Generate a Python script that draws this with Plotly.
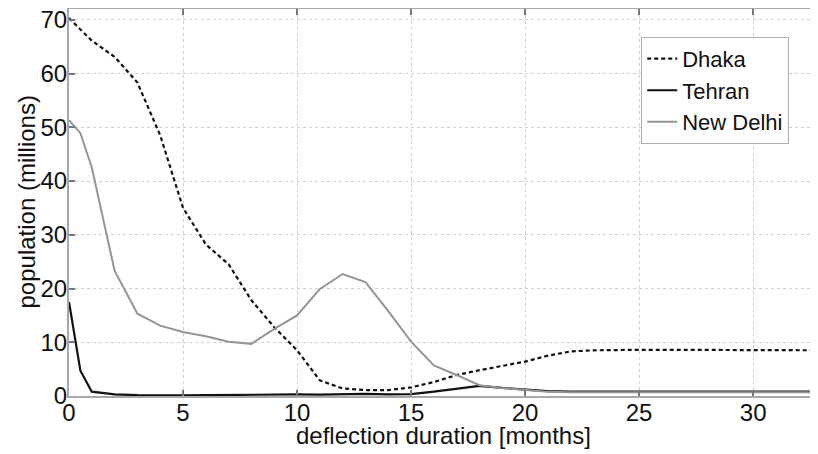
import plotly.graph_objects as go

months = list(range(0, 34))
dhaka = [70.3, 66.1, 63.1, 58.3, 48.5, 35.0, 28.2, 24.5, 17.8, 12.8,
         8.5, 2.9, 1.4, 1.1, 1.1, 1.6, 2.6, 3.9, 4.8, 5.6,
         6.4, 7.5, 8.3, 8.5, 8.6, 8.6, 8.6, 8.6, 8.6, 8.6,
         8.6, 8.6, 8.5, 8.5]

tehran_months = [0, 0.5] + list(range(1, 34))
tehran = [17.5, 4.7, 0.8, 0.3, 0.15, 0.1, 0.1, 0.15, 0.2, 0.25, 0.3,
          0.3, 0.25, 0.35, 0.4, 0.3, 0.35, 0.8, 1.3, 1.9, 1.5,
          1.2, 0.9, 0.8, 0.8, 0.8, 0.8, 0.8, 0.8, 0.8, 0.8,
          0.8, 0.8, 0.8, 0.8]

delhi_months = [0, 0.5] + list(range(1, 34))
delhi = [51.3, 48.9, 42.5, 23.3, 15.3, 13.1, 11.9, 11.1, 10.1, 9.7,
         12.5, 15.0, 19.9, 22.7, 21.2, 15.8, 10.1, 5.7, 3.9, 2.0,
         1.5, 1.1, 0.8, 0.7, 0.7, 0.7, 0.7, 0.7, 0.7, 0.7,
         0.7, 0.7, 0.7, 0.7, 0.7]

x_ticks = [0, 5, 10, 15, 20, 25, 30]
y_ticks = [0, 10, 20, 30, 40, 50, 60, 70]

x_title = "deflection duration [months]"
y_title = "population (millions)"

FONT = "Liberation Sans, Arial, sans-serif"
TXT = "#111111"

fig = go.Figure()
fig.add_trace(go.Scatter(x=months, y=dhaka, mode="lines", name="Dhaka",
                         line=dict(color="#111111", width=2.2, dash="4px,3px")))
fig.add_trace(go.Scatter(x=tehran_months, y=tehran, mode="lines", name="Tehran",
                         line=dict(color="#111111", width=2.2)))
fig.add_trace(go.Scatter(x=delhi_months, y=delhi, mode="lines", name="New Delhi",
                         line=dict(color="#959595", width=2)))

axis_common = dict(
    showline=True, linecolor="#a8a8a8", linewidth=2, mirror="ticks",
    ticks="inside", ticklen=6, tickcolor="#777777", tickwidth=1.5,
    showgrid=True, gridcolor="#cfcfcf", griddash="dot", gridwidth=1,
    zeroline=False, automargin=False, ticklabeloverflow="allow",
    tickfont=dict(family=FONT, size=24, color=TXT),
)

fig.update_xaxes(range=[0, 32.8], tickvals=x_ticks, ticklabelstandoff=-6,
                 **axis_common)
fig.update_yaxes(range=[0, 72], tickvals=y_ticks, ticklabelstandoff=-5,
                 **axis_common)

fig.add_annotation(text=x_title, xref="paper", yref="paper", x=0.5, y=0,
                   xanchor="center", yanchor="middle", yshift=-39,
                   showarrow=False, font=dict(family=FONT, size=24, color=TXT))
fig.add_annotation(text=y_title, xref="paper", yref="paper", x=0, y=0.5,
                   xanchor="center", yanchor="middle", xshift=-43, textangle=-90,
                   showarrow=False, font=dict(family=FONT, size=24, color=TXT))

fig.update_layout(
    width=810, height=446,
    margin=dict(l=61, r=1, t=1, b=58),
    paper_bgcolor="white", plot_bgcolor="white",
    showlegend=True,
    legend=dict(x=0.765, y=0.928, xanchor="left", yanchor="top",
                bgcolor="white", bordercolor="#b0b0b0", borderwidth=1,
                font=dict(family=FONT, size=22, color=TXT),
                itemwidth=30, tracegroupgap=0),
    font=dict(family=FONT),
)

fig.write_html("out.html")
